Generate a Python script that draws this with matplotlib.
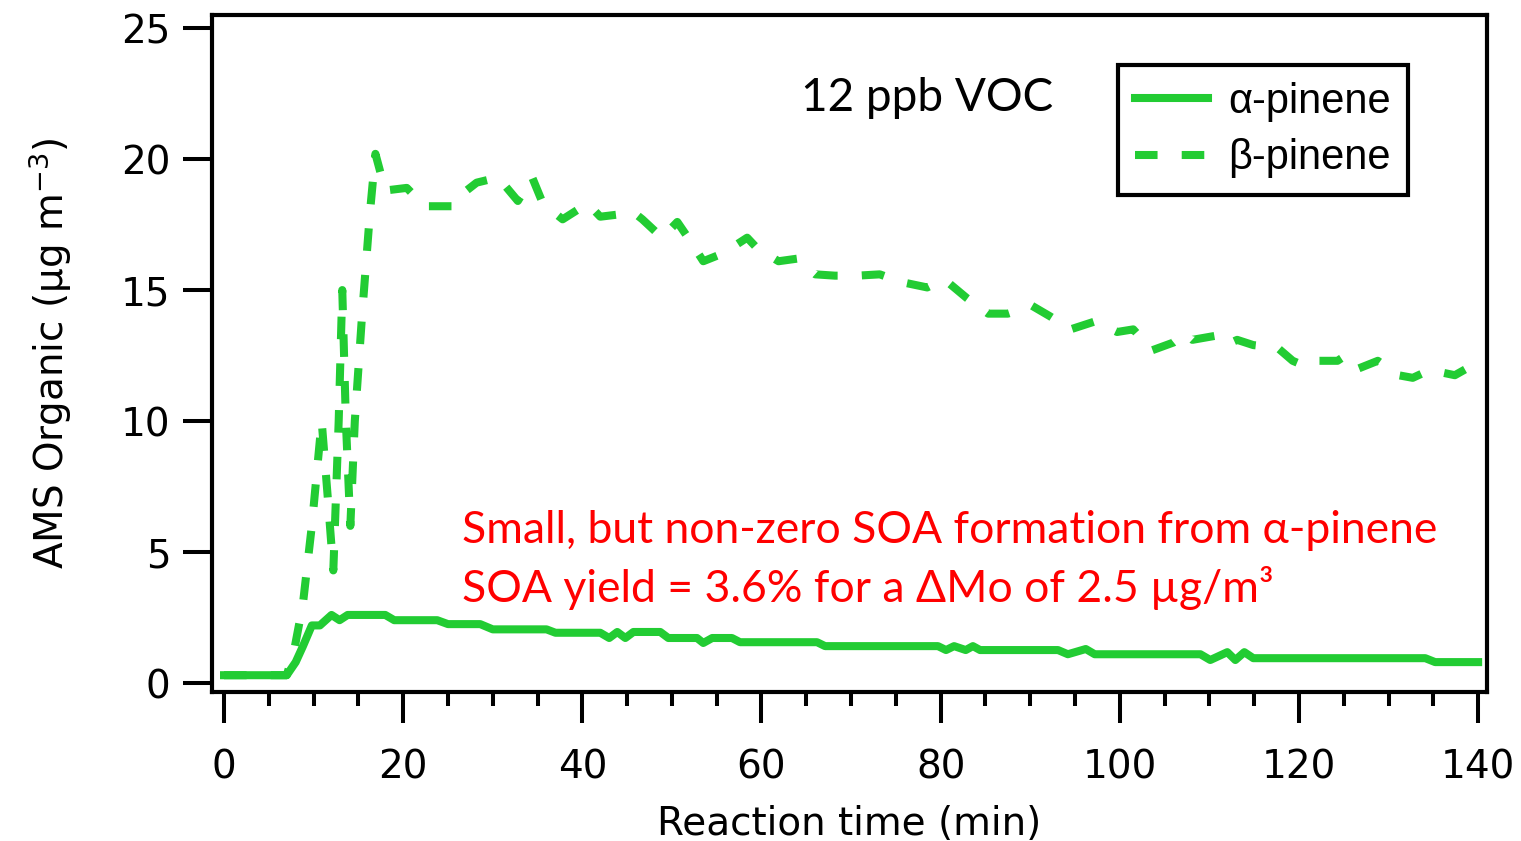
import matplotlib
matplotlib.use("Agg")
import matplotlib.pyplot as plt
from matplotlib.ticker import MultipleLocator

# AMS organic mass vs reaction time, 12 ppb VOC
alpha_time = [0, 7.0, 8.0, 8.8, 9.8, 10.7, 12.0, 12.9, 13.8, 18.0, 19.0, 23.8, 25.0,
              28.6, 30.0, 36.0, 37.0, 42.0, 43.0, 43.9, 44.8, 45.7, 48.7, 49.6, 52.8,
              53.5, 54.5, 56.7, 57.6, 66.2, 67.1, 79.7, 80.6, 81.5, 82.8, 83.6, 84.4,
              93.1, 94.2, 95.2, 96.2, 97.2, 109.0, 110.1, 112.0, 112.9, 113.9, 114.9,
              134.1, 135.2, 140.0]
alpha_conc = [0.3, 0.3, 0.8, 1.4, 2.2, 2.2, 2.6, 2.4, 2.6, 2.6, 2.4, 2.4, 2.25,
              2.25, 2.05, 2.05, 1.92, 1.92, 1.72, 1.95, 1.72, 1.95, 1.95, 1.72, 1.72,
              1.53, 1.72, 1.72, 1.56, 1.56, 1.41, 1.41, 1.26, 1.41, 1.26, 1.41, 1.26,
              1.26, 1.1, 1.2, 1.3, 1.1, 1.1, 0.88, 1.18, 0.88, 1.18, 0.95,
              0.95, 0.8, 0.8]

beta_time = [0, 7.0, 7.8, 8.8, 9.8, 10.9, 11.6, 12.2, 12.8, 13.2, 13.6, 14.1, 14.6,
             15.4, 16.3, 16.9, 18.0, 20.4, 22.4, 24.5, 25.8, 26.7, 28.2, 30.6, 32.8,
             34.4, 35.6, 37.8, 40.1, 40.6, 42.0, 44.4, 45.6, 46.7, 48.9, 50.6, 52.0,
             53.5, 55.7, 58.4, 59.5, 61.9, 64.0, 66.0, 68.2, 70.7, 73.2, 75.7, 78.5,
             80.3, 80.8, 82.9, 85.3, 87.5, 90.2, 92.2, 94.5, 97.2, 99.7, 101.5, 103.6,
             106.0, 107.3, 108.1, 110.6, 111.8, 113.1, 114.9, 117.6, 119.3, 120.7,
             122.0, 124.3, 125.2, 126.6, 128.8, 131.1, 132.7, 134.6, 137.4, 138.7, 139.9]
beta_conc = [0.3, 0.3, 1.2, 3.0, 6.0, 10.0, 7.0, 4.3, 10.0, 15.0, 10.0, 6.0, 10.0,
             14.0, 18.0, 20.2, 18.8, 18.9, 18.2, 18.2, 18.2, 18.7, 19.1, 19.3, 18.4,
             19.3, 18.3, 17.7, 18.2, 18.3, 17.8, 17.9, 18.0, 17.7, 17.0, 17.6, 16.9,
             16.1, 16.4, 17.0, 16.6, 16.1, 16.2, 15.6, 15.55, 15.55, 15.6, 15.3, 15.1,
             15.4, 15.3, 14.7, 14.1, 14.1, 14.4, 14.0, 13.5, 13.8, 13.4, 13.5, 12.7,
             13.0, 13.35, 13.1, 13.25, 12.9, 13.1, 12.9, 12.8, 12.3, 12.1,
             12.3, 12.3, 12.5, 12.0, 12.3, 11.75, 11.65, 11.95, 11.75, 12.0, 11.8]

x_ticks = [0, 20, 40, 60, 80, 100, 120, 140]
y_ticks = [0, 5, 10, 15, 20, 25]

green = "#22cc33"

fig = plt.figure(figsize=(15.21, 8.41), dpi=100)
ax = fig.add_axes([0.1394, 0.1772, 0.8383, 0.805])

beta_line, = ax.plot(beta_time, beta_conc, color=green, lw=5.8, dashes=(2.8, 3.0),
                     dash_capstyle="butt", label="β-pinene", zorder=2)
alpha_line, = ax.plot(alpha_time, alpha_conc, color=green, lw=5.8,
                      solid_joinstyle="round", label="α-pinene", zorder=3)

ax.set_xlim(-1.34, 141.0)
ax.set_ylim(-0.34, 25.5)
ax.set_xticks(x_ticks)
ax.set_yticks(y_ticks)
ax.xaxis.set_minor_locator(MultipleLocator(5))

for side in ["left", "right", "top", "bottom"]:
    ax.spines[side].set_linewidth(3)
ax.tick_params(axis="both", which="major", direction="out", width=2.9, labelsize=28)
ax.tick_params(axis="x", which="major", length=22, pad=19)
ax.tick_params(axis="x", which="minor", length=10, width=2.9)
ax.tick_params(axis="y", which="major", length=21, pad=9)

ax.set_xlabel("Reaction time (min)", fontsize=28, labelpad=13)
ax.set_ylabel("AMS Organic (µg m$^{-3}$)", fontsize=28, labelpad=34)

txt_font = ["Lato", "DejaVu Sans"]
ax.text(0.561, 0.877, "12 ppb VOC", transform=ax.transAxes, fontsize=33,
        family=txt_font, ha="center", va="center")
ax.text(0.196, 0.239, "Small, but non-zero SOA formation from α-pinene",
        transform=ax.transAxes, fontsize=32, family=txt_font, color="red", va="center")
ax.text(0.196, 0.154, "SOA yield = 3.6% for a ΔMo of 2.5 µg/m³",
        transform=ax.transAxes, fontsize=32, family=txt_font, color="red", va="center")

leg = ax.legend(handles=[alpha_line, beta_line], loc="upper left",
                bbox_to_anchor=(0.7106, 0.926), borderaxespad=0,
                prop={"family": ["Liberation Sans", "DejaVu Sans"], "size": 30},
                handlelength=1.75, handletextpad=0.5, labelspacing=0.4,
                borderpad=0.4, fancybox=False, framealpha=1)
leg.get_frame().set_edgecolor("black")
leg.get_frame().set_linewidth(3)

fig.savefig("out.png", dpi=100)
